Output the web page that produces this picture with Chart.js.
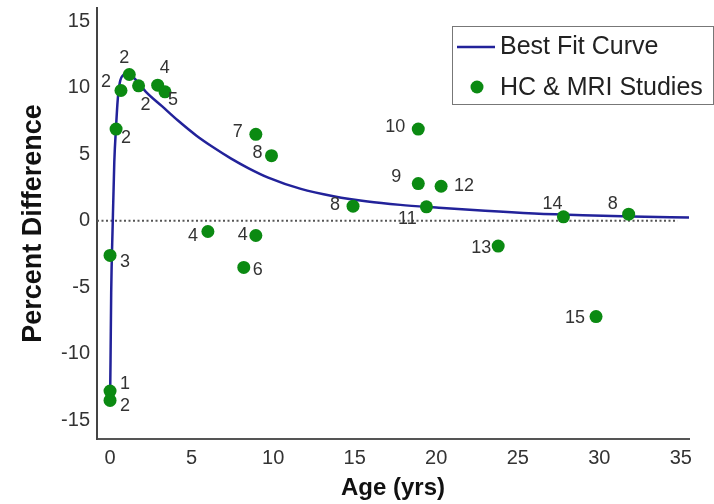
<!DOCTYPE html>
<html>
<head>
<meta charset="utf-8">
<script src="https://cdn.jsdelivr.net/npm/chart.js@4.4.1/dist/chart.umd.min.js"></script>
<style>
  html, body { margin: 0; padding: 0; background: #fff; }
  #wrap { width: 714px; height: 504px; position: relative; }
</style>
</head>
<body>
<div id="wrap"><canvas id="ageChart"></canvas></div>
<script>
// best fit curve
const curveX = [0, 0.03, 0.07, 0.16, 0.26, 0.37, 0.47, 0.6, 0.85, 1.1, 1.5, 2.2, 3.2, 4.2, 5.3, 6.3, 7.4, 8.5, 9.7, 11.7, 13.7, 15.8, 17.8, 20, 23, 26, 29, 32, 35.5];
const curveY = [-13.6, -10.5, -5.4, -0.4, 4.4, 7.1, 9.1, 10.4, 11.0, 11.1, 10.7, 9.7, 8.6, 7.5, 6.4, 5.55, 4.7, 3.95, 3.25, 2.4, 1.85, 1.45, 1.2, 1.0, 0.75, 0.55, 0.42, 0.33, 0.25];

// HC & MRI studies
const studyAge = [0.37, 0.67, 1.18, 1.75, 2.92, 3.37, 0, 0, 0, 6.0, 8.94, 9.9, 14.9, 8.94, 8.2, 18.9, 18.9, 20.3, 19.4, 23.8, 27.8, 31.8, 29.8];
const studyDiff = [6.9, 9.8, 11.0, 10.15, 10.2, 9.7, -2.6, -12.8, -13.5, -0.8, 6.5, 4.9, 1.1, -1.1, -3.5, 6.9, 2.8, 2.6, 1.05, -1.9, 0.3, 0.5, -7.2];
const studyCount = ['2', '2', '2', '2', '4', '5', '3', '1', '2', '4', '7', '8', '8', '4', '6', '10', '9', '12', '11', '13', '14', '8', '15'];

// dotted zero reference line
const zeroX = [-0.8, 34.8];
const zeroY = [0, 0];

const xTicks = [0, 5, 10, 15, 20, 25, 30, 35];
const yTicks = [-15, -10, -5, 0, 5, 10, 15];

// where each count label sits relative to its dot (px)
const labelOffsets = [[10, 9], [-15, -8], [-5, -16], [7, 19], [7, -17], [8, 8], [15, 7], [15, -7], [15, 6],
  [-15, 5], [-18, -2], [-14, -3], [-18, -1], [-13, 0], [14, 3], [-23, -2], [-22, -7], [23, 0], [-19, 12],
  [-17, 2], [-11, -13], [-16, -10], [-21, 1]];

const FONT = "'Liberation Sans', Arial, sans-serif";
const GREEN = '#0b8a12';
const NAVY = '#22229a';

const toPoints = (xs, ys) => xs.map((x, i) => ({ x: x, y: ys[i] }));

const countLabels = {
    id: 'countLabels',
    afterDatasetsDraw(chart) {
        const ctx = chart.ctx;
        const meta = chart.getDatasetMeta(0);
        ctx.save();
        ctx.font = '18px ' + FONT;
        ctx.fillStyle = '#333';
        ctx.textAlign = 'center';
        ctx.textBaseline = 'middle';
        meta.data.forEach((pt, i) => {
            ctx.fillText(studyCount[i], pt.x + labelOffsets[i][0], pt.y + labelOffsets[i][1]);
        });
        ctx.restore();
    }
};

const boxLegend = {
    id: 'boxLegend',
    afterDraw(chart) {
        const ctx = chart.ctx;
        const ds = chart.data.datasets;
        ctx.save();
        ctx.strokeStyle = '#777';
        ctx.lineWidth = 1;
        ctx.strokeRect(452.5, 26.5, 261, 78);
        ctx.strokeStyle = ds[1].borderColor;
        ctx.lineWidth = 2.5;
        ctx.beginPath();
        ctx.moveTo(457, 47);
        ctx.lineTo(495, 47);
        ctx.stroke();
        ctx.fillStyle = ds[0].backgroundColor;
        ctx.beginPath();
        ctx.arc(477, 87, 6.5, 0, Math.PI * 2);
        ctx.fill();
        ctx.font = '25px ' + FONT;
        ctx.fillStyle = '#222';
        ctx.textBaseline = 'middle';
        ctx.fillText(ds[1].label, 500, 47);
        ctx.fillText(ds[0].label, 500, 88);
        ctx.restore();
    }
};

const ctx = document.getElementById('ageChart').getContext('2d');
const ageChart = new Chart(ctx, {
    type: 'scatter',
    data: {
        datasets: [{
            label: 'HC & MRI Studies',
            data: toPoints(studyAge, studyDiff),
            backgroundColor: GREEN,
            borderColor: GREEN,
            pointRadius: 6.5,
            pointBorderWidth: 0,
            order: 0
        }, {
            label: 'Best Fit Curve',
            data: toPoints(curveX, curveY),
            showLine: true,
            borderColor: NAVY,
            borderWidth: 2.5,
            pointRadius: 0,
            cubicInterpolationMode: 'monotone',
            order: 1
        }, {
            label: 'zero',
            data: toPoints(zeroX, zeroY),
            showLine: true,
            borderColor: '#555',
            borderWidth: 2,
            borderDash: [2, 2.5],
            pointRadius: 0,
            order: 2
        }]
    },
    options: {
        responsive: true,
        maintainAspectRatio: false,
        animation: false,
        layout: { padding: { top: 8, right: 25, left: 0, bottom: 0 } },
        plugins: {
            legend: { display: false },
            tooltip: { enabled: false }
        },
        scales: {
            x: {
                type: 'linear',
                min: -0.8,
                max: 35.5,
                afterBuildTicks: (scale) => { scale.ticks = xTicks.map(v => ({ value: v })); },
                afterFit: (scale) => {
                    scale.height = 65;
                    scale.paddingLeft = 0;
                    scale.paddingRight = 0;
                },
                grid: { display: false, drawTicks: false },
                border: { display: true, color: '#555', width: 2 },
                ticks: { color: '#333', padding: 7, font: { family: FONT, size: 20 } },
                title: {
                    display: true,
                    text: 'Age (yrs)',
                    color: '#111',
                    padding: { top: 0, bottom: 1 },
                    font: { family: FONT, size: 24, weight: 'bold' }
                }
            },
            y: {
                type: 'linear',
                min: -16.4,
                max: 16,
                afterBuildTicks: (scale) => { scale.ticks = yTicks.map(v => ({ value: v })); },
                afterFit: (scale) => {
                    scale.width = 97;
                    scale.paddingTop = 0;
                    scale.paddingBottom = 0;
                },
                grid: { display: false, drawTicks: false },
                border: { display: true, color: '#444', width: 2 },
                ticks: { color: '#333', padding: 7, font: { family: FONT, size: 20 } },
                title: {
                    display: true,
                    text: 'Percent Difference',
                    color: '#111',
                    padding: { top: 17, bottom: 0 },
                    font: { family: FONT, size: 27, weight: 'bold' }
                }
            }
        }
    },
    plugins: [countLabels, boxLegend]
});
</script>
</body>
</html>
